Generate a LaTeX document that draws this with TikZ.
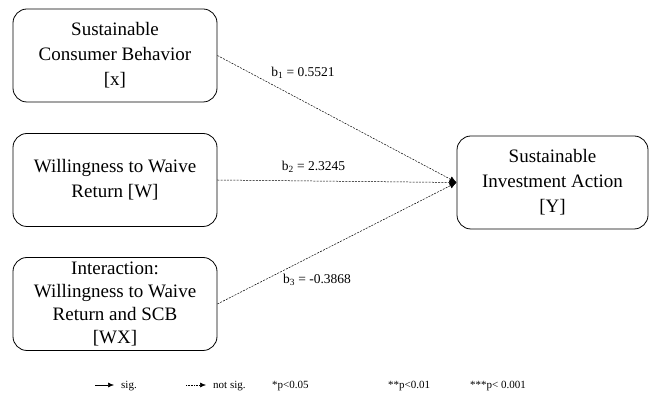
\documentclass[tikz,border=0pt]{standalone}
\usepackage{fontspec}
\setmainfont{Liberation Serif}
\usetikzlibrary{arrows.meta}
\tikzset{
  varbox/.style={draw,rounded corners=14pt,line width=0.8pt,minimum width=204pt,minimum height=93pt,
    align=center,font=\fontsize{19}{25}\selectfont,inner sep=2pt},
  effect/.style={dash pattern=on 2pt off 1.2pt,line width=0.5pt,-{Latex[length=7pt,width=6pt]}},
  coef/.style={font=\fontsize{13.5}{15}\selectfont,inner sep=0pt},
  legend/.style={font=\fontsize{11}{12}\selectfont,inner sep=0pt,anchor=west}
}
\begin{document}
\begin{tikzpicture}[x=1pt,y=-1pt]
    \useasboundingbox (0,0) rectangle (649,403);

    \node[varbox] (x) at (115,55.5) {Sustainable\\Consumer Behavior\\{}[x]};
    \node[varbox] (w) at (115,180) {Willingness to Waive\\Return [W]};
    \node[varbox,font=\fontsize{19}{23}\selectfont] (wx) at (115,304) {Interaction:\\Willingness to Waive\\Return and SCB\\{}[WX]};
    \node[varbox,minimum width=191pt] (y) at (552.5,182.5) {Sustainable\\Investment Action\\{}[Y]};

    \draw[effect] (x.east) -- (y.west);
    \draw[effect] (w.east) -- (y.west);
    \draw[effect] (wx.east) -- (y.west);

    \node[coef] (b1) at (303,73) {b\textsubscript{1} = 0.5521};
    \node[coef] (b2) at (313.5,167) {b\textsubscript{2} = 2.3245};
    \node[coef] (b3) at (317,280) {b\textsubscript{3} = -0.3868};

    % legend
    \coordinate (s0) at (95,385);
    \coordinate (s1) at (114,385);
    \draw[line width=0.6pt,-{Latex[length=6pt,width=5pt]}] (s0) -- (s1);
    \node[legend] (sig) at (121,386) {sig.};
    \coordinate (n0) at (186,385);
    \coordinate (n1) at (206,385);
    \draw[densely dotted,line width=0.6pt,-{Latex[length=6pt,width=5pt]}] (n0) -- (n1);
    \node[legend] (nsig) at (213,386) {not sig.};
    \node[legend] (p1) at (272,386) {*p<0.05};
    \node[legend] (p2) at (388,386) {**p<0.01};
    \node[legend] (p3) at (470,386) {***p< 0.001};
\end{tikzpicture}
\end{document}
